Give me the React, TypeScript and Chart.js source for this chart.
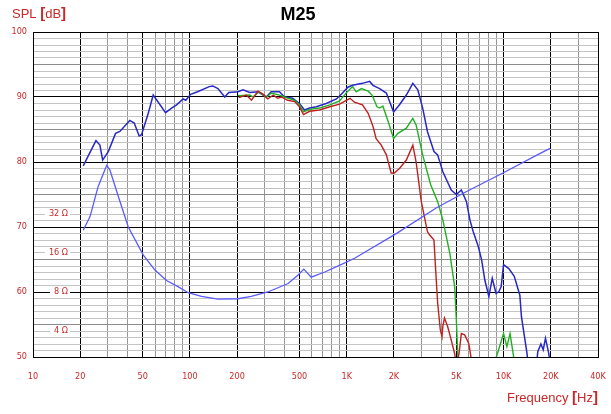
import React, { useEffect, useRef } from "react";
import { Chart, registerables } from "chart.js";

Chart.register(...registerables);

// ---- Data ----
const onAxisFreq = [20.9, 25.2, 26.7, 27.8, 30.2, 33.6, 35.8, 41.4, 44.2, 47.5, 49.2, 54.3, 58.4, 70, 76.5, 82.3, 90.6, 94.3, 101, 112, 133, 140, 151, 167, 177, 203, 218, 241, 272, 307, 330, 373, 401, 452, 500, 538, 580, 640, 740, 860, 940, 1017, 1090, 1260, 1400, 1470, 1620, 1790, 1990, 2170, 2400, 2640, 2840, 3050, 3270, 3600, 3800, 4100, 4640, 5000, 5380, 5800, 6100, 6400, 6900, 7250, 7600, 8060, 8470, 8950, 9300, 9650, 10000, 10800, 11700, 12700, 13000, 14100, 14600, 16000, 16520, 17300, 17900, 18500, 19400, 20000];
const onAxisDb = [79.4, 83.3, 82.6, 80.3, 81.6, 84.4, 84.7, 86.4, 86.0, 84.0, 84.2, 87.5, 90.3, 87.6, 88.3, 88.8, 89.7, 89.5, 90.4, 90.8, 91.6, 91.7, 91.3, 90.0, 90.7, 90.8, 91.1, 90.7, 90.8, 90.0, 90.8, 90.8, 90.0, 89.8, 89.0, 88.0, 88.3, 88.5, 89.0, 89.7, 90.6, 91.5, 91.8, 92.1, 92.4, 91.8, 91.3, 90.6, 87.7, 88.8, 90.3, 92.1, 91.1, 88.3, 84.7, 81.6, 81.1, 78.5, 75.7, 75.0, 75.7, 73.9, 71.1, 69.3, 67.0, 64.9, 61.8, 59.3, 62.1, 59.8, 60.0, 60.8, 64.2, 63.6, 62.4, 59.5, 56.2, 50.6, 47, 47, 50.8, 52.0, 51.1, 52.9, 50.6, 48];

const green30Freq = [203, 208, 241, 253, 276, 307, 330, 373, 412, 466, 500, 530, 580, 670, 780, 900, 990, 1090, 1150, 1240, 1370, 1450, 1560, 1620, 1700, 1840, 1990, 2120, 2400, 2640, 2770, 3050, 3430, 3800, 4100, 4540, 4880, 5000, 5100, 5200, 8800, 9000, 10000, 10500, 11000, 11600, 11800];
const green30Db = [90.3, 90.2, 90.3, 90.0, 90.8, 89.9, 90.6, 90.3, 89.9, 89.5, 88.8, 87.7, 88.1, 88.3, 88.8, 89.4, 90.6, 91.6, 90.8, 91.3, 90.9, 90.3, 88.5, 88.3, 88.6, 86.2, 83.6, 84.4, 85.2, 86.7, 85.7, 81.1, 76.5, 73.9, 71.1, 66.0, 60.8, 55.7, 50.6, 47, 47, 50, 53.6, 51.6, 53.6, 50, 47];

const red60Freq = [205, 229, 247, 272, 294, 314, 340, 363, 383, 420, 466, 500, 530, 580, 670, 780, 900, 1050, 1120, 1260, 1370, 1470, 1540, 1660, 1790, 1920, 2010, 2170, 2400, 2640, 2770, 2990, 3270, 3370, 3600, 3680, 3800, 3950, 4050, 4100, 4200, 4400, 4640, 4880, 5000, 5200, 5380, 5650, 6000, 6200, 6400];
const red60Db = [89.9, 90.3, 89.5, 90.9, 90.4, 89.7, 90.3, 89.8, 90.0, 89.5, 89.3, 88.5, 87.3, 87.8, 88.0, 88.5, 88.9, 89.8, 89.2, 88.8, 87.5, 85.5, 83.6, 82.6, 81.1, 78.3, 78.3, 79.0, 80.3, 82.6, 80.0, 73.9, 69.3, 68.8, 68.0, 63.9, 58.3, 54.2, 53.1, 54.7, 56.0, 54.7, 52.6, 50.5, 48.5, 50.5, 53.6, 53.4, 52.1, 50.0, 47];

const impFreq = [20.9, 23.1, 26, 29.5, 30.9, 35, 40.5, 50.5, 59.9, 71, 84, 97.6, 118.6, 151, 203, 246, 314, 423, 490, 533, 594, 725, 920, 1130, 2070, 3720, 5530, 9900, 17000, 19800];
const impOhm = [23.9, 30.4, 51.7, 75.5, 69.7, 43.4, 25.3, 15.4, 11.8, 9.8, 8.8, 7.9, 7.4, 7.05, 7.1, 7.4, 8.0, 9.3, 10.8, 12.0, 10.4, 11.4, 13.0, 14.6, 22.5, 35.4, 46.0, 65.8, 92.8, 101.8];

const impLabels = [32, 16, 8, 4];

const xTickValues = [10, 20, 30, 40, 50, 60, 70, 80, 90, 100, 200, 300, 400, 500, 600, 700, 800, 900, 1000, 2000, 3000, 4000, 5000, 6000, 7000, 8000, 9000, 10000, 20000, 30000, 40000];
const xLabelled = [10, 20, 50, 100, 200, 500, 1000, 2000, 5000, 10000, 20000, 40000];
const yMin = 50;
const yMax = 100;

// impedance in ohms -> SPL-axis position (8 ohm = 60, 6 dB per doubling)
const ohmToAxis = (z: number) => 60 + 20 * Math.log10(z / 8);

const RED = "#c82828";
const TICK_FONT = "DejaVu Sans Condensed";

const xLabel = (v: number) => (v >= 1000 ? `${v / 1000}K` : `${v}`);

const textPlugin = {
  id: "textPlugin",
  beforeDatasetsDraw(chart: any) {
    const { ctx } = chart;
    const ys = chart.scales.y;
    const right = chart.chartArea.left + 35;
    ctx.save();
    ctx.font = `9px "${TICK_FONT}"`;
    ctx.textAlign = "right";
    ctx.textBaseline = "middle";
    impLabels.forEach((z) => {
      const py = ys.getPixelForValue(ohmToAxis(z));
      const txt = `${z} Ω`;
      const w = ctx.measureText(txt).width;
      ctx.fillStyle = "#ffffff";
      ctx.fillRect(right - w - 4, py - 4, w + 6, 9);
      ctx.fillStyle = RED;
      ctx.fillText(txt, right, py);
    });
    ctx.restore();
  },
  afterDraw(chart: any) {
    const { ctx } = chart;
    ctx.save();
    ctx.textBaseline = "middle";
    ctx.font = 'bold 18px "Liberation Sans"';
    ctx.fillStyle = "#000000";
    ctx.textAlign = "center";
    ctx.fillText("M25", 298, 15);
    const drawPieces = (pieces: [string, string][], startX: number, y: number) => {
      let x = startX;
      ctx.textAlign = "left";
      pieces.forEach(([t, f]) => {
        ctx.font = f;
        ctx.fillText(t, x, y);
        x += ctx.measureText(t).width;
      });
    };
    const widthOf = (pieces: [string, string][]) =>
      pieces.reduce((s, [t, f]) => {
        ctx.font = f;
        return s + ctx.measureText(t).width;
      }, 0);
    ctx.fillStyle = RED;
    const normal = '13px "Liberation Sans"';
    const bold = 'bold 15px "Liberation Sans"';
    const spl: [string, string][] = [["SPL ", normal], ["[", bold], ["dB", normal], ["]", bold]];
    drawPieces(spl, 12, 14);
    const freq: [string, string][] = [["Frequency ", normal], ["[", bold], ["Hz", normal], ["]", bold]];
    drawPieces(freq, 598 - widthOf(freq), 398);
    ctx.restore();
  },
};

export default function App() {
  const ref = useRef<HTMLCanvasElement | null>(null);

  useEffect(() => {
    if (!ref.current) return;
    const mk = (f: number[], v: number[]) => f.map((x, i) => ({ x, y: v[i] }));
    const chart = new Chart(ref.current, {
      type: "line",
      data: {
        datasets: [
          { label: "Impedance", data: impFreq.map((x, i) => ({ x, y: ohmToAxis(impOhm[i]) })), borderColor: "#5a5aff", borderWidth: 1.3 },
          { label: "60°", data: mk(red60Freq, red60Db), borderColor: "#c02020", borderWidth: 1.4 },
          { label: "30°", data: mk(green30Freq, green30Db), borderColor: "#20b020", borderWidth: 1.4 },
          { label: "0°", data: mk(onAxisFreq, onAxisDb), borderColor: "#2828c8", borderWidth: 1.5 },
        ],
      },
      options: {
        animation: false,
        responsive: false,
        devicePixelRatio: 1,
        elements: { point: { radius: 0 }, line: { tension: 0 } },
        layout: { padding: { left: 0, top: 32, right: 13, bottom: 0 } },
        plugins: { legend: { display: false }, tooltip: { enabled: false } },
        scales: {
          x: {
            type: "logarithmic",
            min: 10,
            max: 40000,
            afterBuildTicks: (axis: any) => {
              axis.ticks = xTickValues.map((v) => ({ value: v }));
            },
            afterFit: (scale: any) => {
              scale.height = 57;
              scale.paddingLeft = 0;
              scale.paddingRight = 0;
            },
            ticks: {
              autoSkip: false,
              maxRotation: 0,
              padding: 14,
              color: RED,
              font: { family: TICK_FONT, size: 9 },
              callback: (v: any) => (xLabelled.includes(Number(v)) ? xLabel(Number(v)) : ""),
            },
            grid: {
              drawTicks: false,
              color: (c: any) => {
                const v = c.tick ? c.tick.value : 0;
                return xLabelled.includes(v) ? "#000000" : "#959595";
              },
            },
            border: { display: true, color: "#000000" },
          },
          y: {
            type: "linear",
            min: yMin,
            max: yMax,
            afterBuildTicks: (axis: any) => {
              const t = [];
              for (let v = yMin; v <= yMax; v++) t.push({ value: v });
              axis.ticks = t;
            },
            afterFit: (scale: any) => {
              scale.width = 33;
              scale.paddingTop = 0;
              scale.paddingBottom = 0;
            },
            ticks: {
              autoSkip: false,
              padding: 6,
              color: RED,
              font: { family: TICK_FONT, size: 9 },
              callback: (v: any) => (Number(v) % 10 === 0 ? String(v) : ""),
            },
            grid: {
              drawTicks: false,
              color: (c: any) => {
                const v = c.tick ? c.tick.value : 0;
                if (v % 10 === 0) return "#000000";
                if (v % 5 === 0) return "#8c8c8c";
                return "#c4c4c4";
              },
            },
            border: { display: true, color: "#000000" },
          },
        },
      },
      plugins: [textPlugin],
    } as any);
    return () => chart.destroy();
  }, []);

  return (
    <div style={{ position: "absolute", left: 0, top: 0, width: 611, height: 414, background: "#ffffff" }}>
      <canvas ref={ref} width={611} height={414} style={{ display: "block", width: 611, height: 414 }} />
    </div>
  );
}
